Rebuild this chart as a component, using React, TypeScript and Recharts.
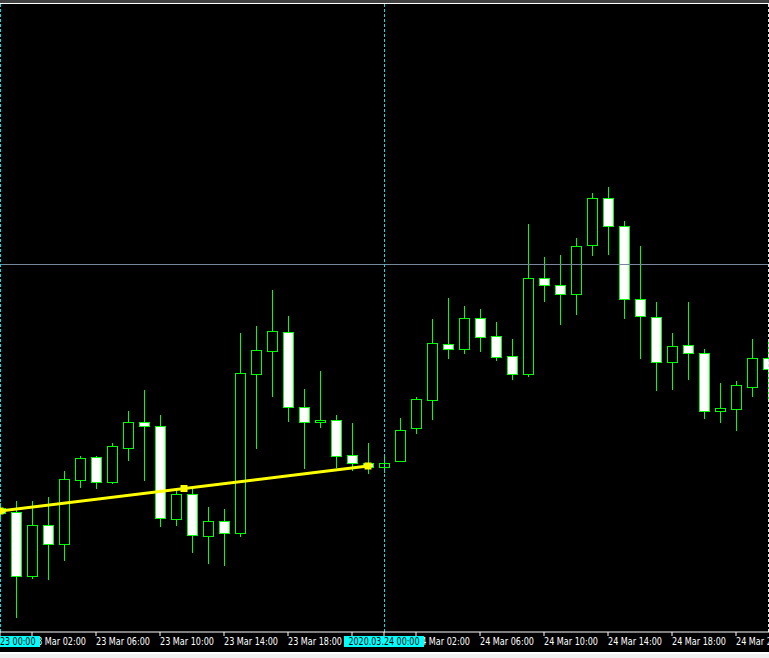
import { ComposedChart, Bar, XAxis, YAxis, ReferenceLine, ReferenceDot } from "recharts";

// hourly candles from 2020.03.23 00:00, price units (no price scale shown)
const opens = [124, 120, 56, 107, 88, 152, 175, 150, 184, 210, 206, 113, 138, 96, 111, 99, 258, 281, 300, 225, 210, 212, 177, 169, 165, 171, 204, 232, 288, 283, 314, 296, 276, 258, 354, 347, 338, 387, 434, 406, 333, 315, 270, 287, 279, 221, 223, 245, 274];
const highs = [129, 131, 131, 135, 161, 176, 176, 189, 221, 242, 217, 142, 144, 125, 123, 299, 306, 342, 316, 243, 261, 217, 209, 189, 177, 214, 235, 313, 334, 326, 323, 310, 293, 408, 375, 377, 394, 439, 445, 411, 386, 330, 299, 330, 283, 249, 251, 293, 292];
const lows = [114, 15, 54, 53, 72, 145, 144, 149, 172, 152, 106, 107, 80, 69, 67, 96, 184, 236, 211, 164, 205, 165, 162, 159, 160, 171, 199, 213, 274, 279, 281, 272, 253, 256, 331, 308, 318, 377, 378, 314, 274, 242, 243, 253, 214, 210, 202, 236, 232];
const closes = [119, 56, 107, 88, 153, 174, 150, 186, 210, 206, 114, 138, 97, 111, 99, 259, 282, 301, 225, 210, 212, 176, 169, 165, 169, 202, 233, 289, 283, 314, 295, 275, 258, 354, 347, 338, 386, 434, 406, 333, 316, 270, 286, 279, 221, 224, 247, 274, 263];

const tickHours = [2, 6, 10, 14, 18, 22, 26, 30, 34, 38, 42, 46];
const tickLabels = ["23 Mar 02:00", "23 Mar 06:00", "23 Mar 10:00", "23 Mar 14:00", "23 Mar 18:00", "23 Mar 22:00", "24 Mar 02:00", "24 Mar 06:00", "24 Mar 10:00", "24 Mar 14:00", "24 Mar 18:00", "24 Mar 22:00"];
const dayHours = [0, 24];
const dayLabels = ["2020.03.23 00:00", "2020.03.24 00:00"];

const trendHours = [0, 11.5, 23];
const trendValues = [121, 143.5, 166];
const levelValue = 368;
const edgeHour = 48;

const candles = opens.map((open, i) => ({
  hour: i,
  open,
  high: highs[i],
  low: lows[i],
  close: closes[i],
}));

const GREEN = "#00ff00";
const CYAN = "#00ffff";

function Candle(props: any) {
  const { x, y, width, height, payload } = props;
  if (!payload || x == null) return null;
  const top = Math.min(y, y + height);
  const h = Math.abs(height);
  const k = h / (payload.high - payload.low);
  const cx = Math.round(x + width / 2);
  const yo = top + (payload.high - payload.open) * k;
  const yc = top + (payload.high - payload.close) * k;
  const bTop = Math.round(Math.min(yo, yc));
  const bBot = Math.round(Math.max(yo, yc));
  const bear = payload.close < payload.open;
  return (
    <g>
      <line x1={cx + 0.5} x2={cx + 0.5} y1={Math.round(top)} y2={Math.round(top + h) + 1} stroke={GREEN} strokeWidth={1} />
      <rect
        x={cx - 4.5}
        y={bTop + 0.5}
        width={10}
        height={Math.max(bBot - bTop, 1)}
        fill={bear ? "#ffffff" : "#000000"}
        stroke={GREEN}
        strokeWidth={1}
      />
    </g>
  );
}

function AxisTick(props: any) {
  const { x, y, payload } = props;
  const v = payload.value;
  const di = dayHours.indexOf(v);
  if (di >= 0) {
    return (
      <g>
        <rect x={x - 40} y={y} width={80} height={11} fill={CYAN} />
        <text x={x} y={y + 9} textAnchor="middle" fill="#000" fontSize={10} fontFamily="Tahoma, 'DejaVu Sans', sans-serif" textLength={71} lengthAdjust="spacingAndGlyphs">
          {dayLabels[di]}
        </text>
      </g>
    );
  }
  const ti = tickHours.indexOf(v);
  if (ti < 0) return null;
  return (
    <text x={x} y={y + 9} textAnchor="start" fill="#ffffff" fontSize={10} fontFamily="Tahoma, 'DejaVu Sans', sans-serif" textLength={54} lengthAdjust="spacingAndGlyphs">
      {tickLabels[ti]}
    </text>
  );
}

const crispV = (color: string) => (p: any) => (
  <line x1={p.x1 + 0.5} x2={p.x2 + 0.5} y1={p.y1} y2={p.y2} stroke={color} strokeWidth={1} strokeDasharray="3 2" />
);

const crispH = (p: any) => (
  <line x1={p.x1} x2={p.x2} y1={p.y1 + 0.5} y2={p.y2 + 0.5} stroke="#778899" strokeWidth={1} />
);

const marker = (p: any) => <rect x={p.cx - 3.5} y={p.cy - 3.5} width={7} height={7} fill="#ffff00" />;

export default function App() {
  return (
    <div style={{ position: "absolute", left: 0, top: 0, width: 769, height: 658, background: "#000", overflow: "hidden" }}>
      <ComposedChart width={769} height={658} data={candles} margin={{ top: 4, right: 0, bottom: 0, left: 0 }}>
        <XAxis
          dataKey="hour"
          type="number"
          domain={[0, 48.0625]}
          allowDataOverflow
          ticks={[...tickHours, ...dayHours]}
          interval={0}
          height={26}
          tickSize={4}
          tickMargin={0}
          axisLine={{ stroke: "#ffffff" }}
          tickLine={{ stroke: "#ffffff" }}
          tick={<AxisTick />}
        />
        <YAxis hide type="number" domain={[0, 628]} allowDataOverflow />
        <ReferenceLine y={levelValue} shape={crispH} />
        <Bar dataKey={(d: any) => [d.low, d.high]} barSize={11} isAnimationActive={false} shape={<Candle />} />
        {dayHours.map((h) => (
          <ReferenceLine key={h} x={h} shape={crispV("#00e0f0")} />
        ))}
        <ReferenceLine x={edgeHour} shape={crispV("#e0e0e0")} />
        <ReferenceLine
          segment={[
            { x: trendHours[0], y: trendValues[0] },
            { x: trendHours[2], y: trendValues[2] },
          ]}
          stroke="#ffff00"
          strokeWidth={3}
        />
        {trendHours.map((h, i) => (
          <ReferenceDot key={h} x={h} y={trendValues[i]} r={4} shape={marker} />
        ))}
      </ComposedChart>
      <div style={{ position: "absolute", left: 0, top: 0, width: 769, height: 3, background: "#404040" }} />
      <div style={{ position: "absolute", left: 0, top: 3, width: 769, height: 1, background: "#ffffff" }} />
      <div style={{ position: "absolute", left: 0, top: 652, width: 769, height: 2, background: "#ffffff" }} />
      <div style={{ position: "absolute", left: 0, top: 654, width: 769, height: 4, background: "#f0f0f0" }} />
    </div>
  );
}
